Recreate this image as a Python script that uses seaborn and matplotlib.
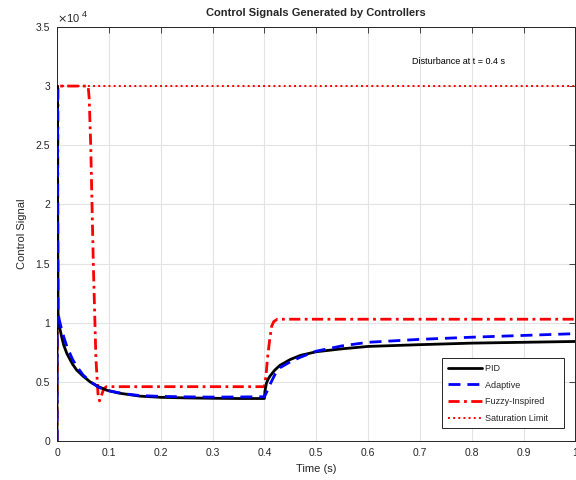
import pandas as pd
import matplotlib.pyplot as plt
import seaborn as sns
from matplotlib.ticker import FuncFormatter, MultipleLocator

# ── data (control signal, raw units) ──────────────────────────────────────────
t_pid = [0, 0.0005, 0.002, 0.004, 0.006, 0.009, 0.013, 0.019, 0.025, 0.03, 0.038,
         0.05, 0.064, 0.08, 0.096, 0.12, 0.16, 0.2, 0.25, 0.3, 0.35, 0.4,
         0.401, 0.404, 0.408, 0.411, 0.42, 0.43, 0.45, 0.47, 0.5, 0.55, 0.6,
         0.7, 0.8, 0.9, 1.0]
u_pid = [0, 30000, 10800, 10000, 9400, 8800, 8100, 7400, 6900, 6500, 6000,
         5500, 5000, 4600, 4300, 4050, 3800, 3700, 3650, 3620, 3600, 3600,
         4200, 4900, 5300, 5500, 6000, 6400, 6900, 7250, 7550, 7800, 8000,
         8150, 8280, 8350, 8420]

t_adapt = [0, 0.0005, 0.002, 0.004, 0.008, 0.013, 0.019, 0.025, 0.03, 0.04,
           0.05, 0.065, 0.08, 0.1, 0.13, 0.16, 0.2, 0.25, 0.3, 0.35, 0.4,
           0.403, 0.407, 0.411, 0.42, 0.43, 0.45, 0.47, 0.5, 0.55, 0.6,
           0.7, 0.8, 0.9, 1.0]
u_adapt = [0, 30000, 11000, 10300, 9600, 8800, 8000, 7400, 6900, 6200,
           5600, 5000, 4550, 4250, 4000, 3850, 3780, 3740, 3720, 3730, 3750,
           4000, 4400, 4800, 5600, 6200, 6700, 7100, 7600, 8050, 8350,
           8600, 8780, 8930, 9080]

t_fuzzy = [0, 0.002, 0.06, 0.062, 0.065, 0.07, 0.075, 0.079, 0.082, 0.086,
           0.09, 0.095, 0.4, 0.403, 0.406, 0.41, 0.414, 0.418, 0.425, 1.0]
u_fuzzy = [0, 30000, 30000, 29000, 25000, 15000, 7000, 4000, 3400, 3900,
           4400, 4600, 4600, 5500, 7000, 8500, 9700, 10100, 10300, 10300]

t_sat = [0, 1.0]
u_sat = [30000, 30000]

# ── style ─────────────────────────────────────────────────────────────────────
sns.set_theme(style="whitegrid")
plt.rcParams["font.family"] = ["Liberation Sans", "DejaVu Sans"]

fig = plt.figure(figsize=(5.76, 4.8), dpi=100)
ax = fig.add_axes([0.099, 0.081, 0.9, 0.863])
ax.set_facecolor("white")

sns.lineplot(x=t_sat, y=u_sat, ax=ax, color="#FF0000", linestyle=":",
             linewidth=1.4, estimator=None, label="Saturation Limit", zorder=2)
sns.lineplot(x=t_fuzzy, y=u_fuzzy, ax=ax, color="#FF0000", linewidth=2,
             estimator=None, label="Fuzzy-Inspired", zorder=3)
ax.lines[-1].set_dashes((4, 1.6, 1, 1.6))
sns.lineplot(x=t_pid, y=u_pid, ax=ax, color="black", linestyle="-",
             linewidth=2, estimator=None, label="PID", zorder=4)
sns.lineplot(x=t_adapt, y=u_adapt, ax=ax, color="#0000FF",
             linewidth=2, estimator=None, label="Adaptive", zorder=5)
ax.lines[-1].set_dashes((4.3, 2.5))

ax.set_xlim(0, 1)
ax.set_ylim(0, 35000)
ax.xaxis.set_major_locator(MultipleLocator(0.1))
ax.yaxis.set_major_locator(MultipleLocator(5000))
ax.xaxis.set_major_formatter(FuncFormatter(lambda v, p: f"{v:g}"))
ax.yaxis.set_major_formatter(FuncFormatter(lambda v, p: f"{v / 1e4:g}"))
ax.tick_params(direction="in", length=4, width=0.6, labelsize=7.5,
               colors="#262626", top=True, right=True, pad=5)
ax.grid(True, color="#e3e3e3", linewidth=0.8)
for s in ax.spines.values():
    s.set_color("#262626")
    s.set_linewidth(0.7)

ax.set_xlabel("Time (s)", fontsize=8, color="#262626", labelpad=4)
ax.set_ylabel("Control Signal", fontsize=8, color="#262626", labelpad=6)
ax.set_title("Control Signals Generated by Controllers", fontsize=8,
             fontweight="bold", pad=8)
ax.text(0.0, 1.008, r"$\times\mathregular{10}$", transform=ax.transAxes,
        fontsize=8, color="#262626", ha="left", va="bottom")
ax.text(0.048, 1.018, "4", transform=ax.transAxes,
        fontsize=6.5, color="#262626", ha="left", va="bottom")

ax.text(0.685, 32100, "Disturbance at t = 0.4 s", fontsize=6.5, va="center",
        ha="left", color="black")

handles, labels = ax.get_legend_handles_labels()
order = ["PID", "Adaptive", "Fuzzy-Inspired", "Saturation Limit"]
hmap = dict(zip(labels, handles))
leg = ax.legend([hmap[k] for k in order], [k + "    " for k in order],
                loc="lower right", bbox_to_anchor=(0.986, 0.02), fontsize=6.5,
                handlelength=3.8, handletextpad=0.35, fancybox=False,
                framealpha=1, edgecolor="#262626", borderpad=0.6,
                labelspacing=0.85)
leg.get_frame().set_linewidth(0.7)

fig.savefig("out.png", dpi=100)
